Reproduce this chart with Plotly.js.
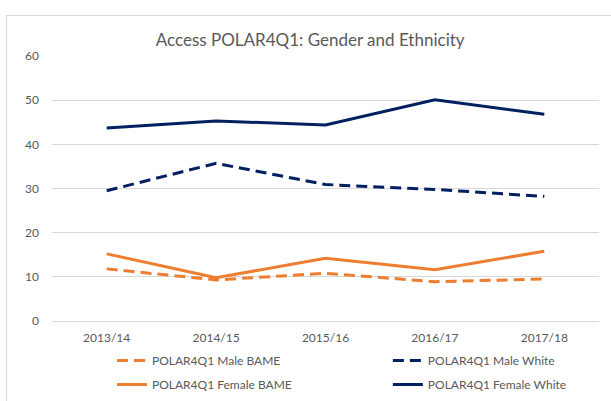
<!DOCTYPE html>
<html>
<head>
<meta charset="utf-8">
<script src="https://cdn.plot.ly/plotly-3.0.1.min.js"></script>
<style>
html,body{margin:0;padding:0;background:#fff;overflow:hidden;}
#frame{position:absolute;left:6px;top:15px;width:620px;height:400px;border:1px solid #d9d9d9;}
#chart{width:620px;height:400px;}
</style>
</head>
<body>
<div id="frame"><div id="chart"></div></div>
<script>
const years = ["2013/14","2014/15","2015/16","2016/17","2017/18"];
const maleBAME = [11.8, 9.3, 10.8, 8.9, 9.5];
const maleWhite = [29.5, 35.7, 30.9, 29.8, 28.2];
const femaleBAME = [15.2, 9.8, 14.2, 11.6, 15.8];
const femaleWhite = [43.7, 45.3, 44.4, 50.1, 46.8];
const yTicks = [0,10,20,30,40,50,60];

const ORANGE = "#ED7D31", NAVY = "#002060";
const DASH = "11px,6px";
const traces = [
  {x: years, y: maleBAME, name: "POLAR4Q1 Male BAME", mode: "lines", legend: "legend", legendgroup: "a",
   line: {color: ORANGE, width: 3, dash: DASH}},
  {x: years, y: maleWhite, name: "POLAR4Q1 Male White", mode: "lines", legend: "legend2", legendgroup: "b",
   line: {color: NAVY, width: 3, dash: DASH}},
  {x: years, y: femaleBAME, name: "POLAR4Q1 Female BAME", mode: "lines", legend: "legend", legendgroup: "c",
   line: {color: ORANGE, width: 3}},
  {x: years, y: femaleWhite, name: "POLAR4Q1 Female White", mode: "lines", legend: "legend2", legendgroup: "d",
   line: {color: NAVY, width: 3}}
];
const legBase = {orientation: "v", xref: "paper", yref: "paper", xanchor: "left", yanchor: "top",
  y: -0.0943, traceorder: "grouped", tracegroupgap: 5, font: {size: 12, color: "#595959"},
  bgcolor: "rgba(0,0,0,0)", borderwidth: 0};
const layout = {
  width: 620, height: 400,
  margin: {l: 45, r: 28, t: 40, b: 95},
  paper_bgcolor: "#fff", plot_bgcolor: "#fff",
  font: {family: "Lato, 'Open Sans', sans-serif", size: 12, color: "#595959"},
  title: {text: "Access POLAR4Q1: Gender and Ethnicity", font: {size: 17, color: "#595959"},
          x: 0.489, xref: "container", xanchor: "center", y: 0.94, yref: "container", yanchor: "middle"},
  xaxis: {type: "category", range: [-0.5, 4.5], showgrid: false, zeroline: false, showline: false, ticks: "",
          ticklabelstandoff: 8, tickfont: {size: 12, color: "#595959"}},
  yaxis: {range: [0, 60], tickvals: yTicks, showgrid: true, gridcolor: "#d9d9d9", gridwidth: 1,
          zeroline: true, zerolinecolor: "#d9d9d9", zerolinewidth: 1, showline: false, ticks: "",
          ticklabelstandoff: 12, tickfont: {size: 12, color: "#595959"}},
  showlegend: true,
  legend: Object.assign({}, legBase, {x: 0.1097}),
  legend2: Object.assign({}, legBase, {x: 0.614})
};
Plotly.newPlot("chart", traces, layout, {displayModeBar: false, staticPlot: true});
</script>
</body>
</html>
